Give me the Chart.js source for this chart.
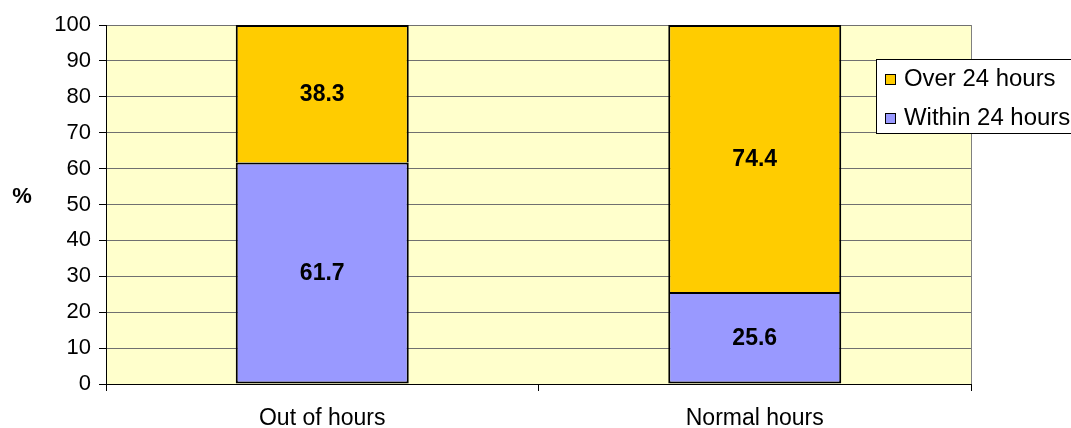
<!DOCTYPE html>
<html>
<head>
<meta charset="utf-8">
<script src="https://cdn.jsdelivr.net/npm/chart.js@4.4.0/dist/chart.umd.min.js"></script>
<style>
  body { margin: 0; background: #fff; }
  #wrap { width: 1071px; height: 428px; }
</style>
</head>
<body>
<div id="wrap"><canvas id="hoursChart" width="1071" height="428"></canvas></div>
<script>
const categories = ['Out of hours', 'Normal hours'];
const withinDay = [61.7, 25.6];
const overDay = [38.3, 74.4];
const yTicks = [0, 10, 20, 30, 40, 50, 60, 70, 80, 90, 100];

const FONT = '"Liberation Sans", Arial, sans-serif';

// yellow plot background + grey right edge
const plotBg = {
  id: 'plotBg',
  beforeDraw(chart) {
    const { ctx, chartArea: a } = chart;
    ctx.save();
    ctx.fillStyle = '#FFFFCC';
    ctx.fillRect(a.left, a.top, a.right - a.left, a.bottom - a.top);
    ctx.restore();
  },
  afterDraw(chart) {
    const { ctx, chartArea: a } = chart;
    ctx.save();
    ctx.strokeStyle = '#808080';
    ctx.lineWidth = 1;
    ctx.beginPath();
    ctx.moveTo(a.right + 0.5, a.top);
    ctx.lineTo(a.right + 0.5, a.bottom);
    ctx.stroke();
    // "%" axis label, not rotated
    ctx.fillStyle = '#000';
    ctx.font = 'bold 22px ' + FONT;
    ctx.textAlign = 'center';
    ctx.textBaseline = 'middle';
    ctx.fillText('%', 22, 197);
    ctx.restore();
  }
};

// bold value in the middle of each bar segment
const barValues = {
  id: 'barValues',
  afterDatasetsDraw(chart) {
    const { ctx } = chart;
    ctx.save();
    ctx.fillStyle = '#000';
    ctx.font = 'bold 23px ' + FONT;
    ctx.textAlign = 'center';
    ctx.textBaseline = 'middle';
    chart.data.datasets.forEach((ds, i) => {
      chart.getDatasetMeta(i).data.forEach((bar, j) => {
        const mid = (bar.y + bar.base) / 2;
        ctx.fillText(ds.data[j].toFixed(1), bar.x, mid + 1);
      });
    });
    ctx.restore();
  }
};

// boxed legend overlapping the top right of the plot
const boxLegend = {
  id: 'boxLegend',
  afterDraw(chart) {
    const { ctx } = chart;
    const x = 876, y = 59, w = 200, h = 74;
    ctx.save();
    ctx.fillStyle = '#fff';
    ctx.fillRect(x, y, w, h);
    ctx.strokeStyle = '#000';
    ctx.lineWidth = 1;
    ctx.strokeRect(x + 0.5, y + 0.5, w, h);
    const items = chart.data.datasets.slice().reverse();
    items.forEach((ds, i) => {
      const cy = 79 + i * 39;
      ctx.fillStyle = ds.backgroundColor;
      ctx.fillRect(885, cy - 5, 10, 10);
      ctx.strokeStyle = '#000';
      ctx.strokeRect(885.5, cy - 4.5, 10, 10);
      ctx.fillStyle = '#000';
      ctx.font = '23px ' + FONT;
      ctx.textBaseline = 'middle';
      ctx.textAlign = 'left';
      ctx.save();
      ctx.translate(904, cy + 1);
      ctx.scale(1.04, 1);
      ctx.fillText(ds.label, 0, 0);
      ctx.restore();
    });
    ctx.restore();
  }
};

new Chart(document.getElementById('hoursChart'), {
  type: 'bar',
  data: {
    labels: categories,
    datasets: [
      {
        label: 'Within 24 hours',
        data: withinDay,
        backgroundColor: '#9999FF',
        borderColor: '#000',
        borderWidth: 2,
        borderSkipped: false,
        categoryPercentage: 0.4,
        barPercentage: 1
      },
      {
        label: 'Over 24 hours',
        data: overDay,
        backgroundColor: '#FFCC00',
        borderColor: '#000',
        borderWidth: 2,
        borderSkipped: 'start',
        categoryPercentage: 0.4,
        barPercentage: 1
      }
    ]
  },
  options: {
    responsive: false,
    animation: false,
    devicePixelRatio: 1,
    layout: { padding: { top: 25, right: 100, left: 0, bottom: 0 } },
    plugins: {
      legend: { display: false },
      tooltip: { enabled: false }
    },
    scales: {
      x: {
        stacked: true,
        offset: true,
        grid: { offset: true, drawOnChartArea: false, drawTicks: true, tickLength: 7, color: '#000' },
        border: { color: '#000', width: 1 },
        ticks: { color: '#000', font: { family: FONT, size: 23 }, padding: 14, maxRotation: 0 },
        afterFit(scale) { scale.height = 44; }
      },
      y: {
        stacked: true,
        min: 0,
        max: 100,
        afterBuildTicks(scale) { scale.ticks = yTicks.map(v => ({ value: v })); },
        grid: { color: '#707070', tickLength: 7, tickColor: '#000' },
        border: { color: '#000', width: 1 },
        ticks: { color: '#000', font: { family: FONT, size: 22 }, padding: 8 },
        afterFit(scale) { scale.width = 106; }
      }
    }
  },
  plugins: [plotBg, barValues, boxLegend]
});
</script>
</body>
</html>
